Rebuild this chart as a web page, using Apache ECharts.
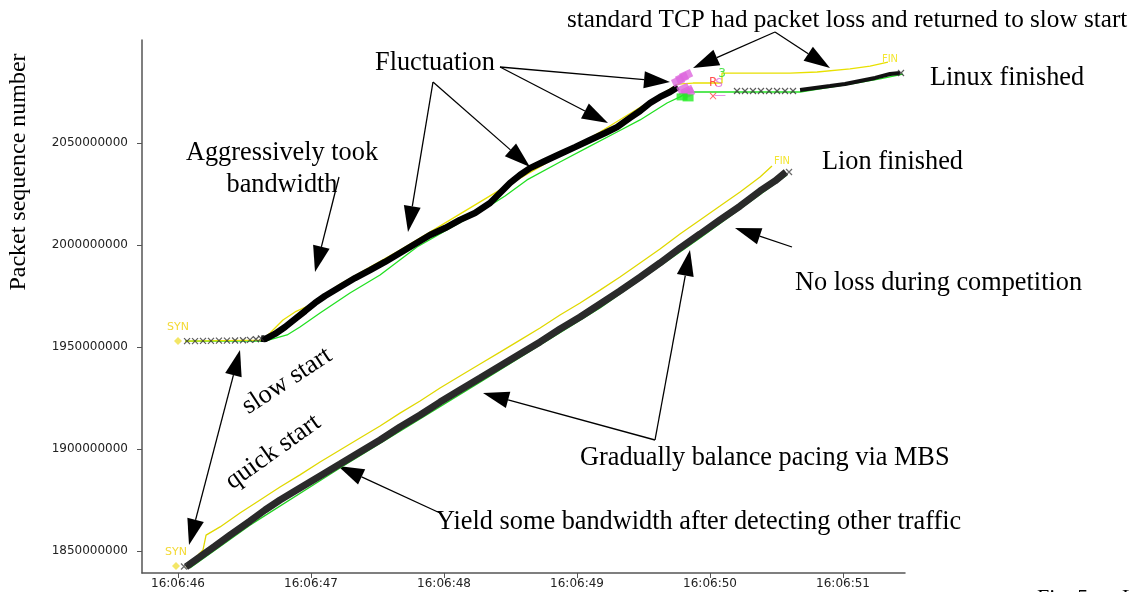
<!DOCTYPE html>
<html><head><meta charset="utf-8">
<script src="https://cdn.jsdelivr.net/npm/echarts@6/dist/echarts.min.js"></script>
<style>html,body{margin:0;padding:0;background:#fff}#c{width:1134px;height:592px}</style>
</head><body><div id="c"></div>
<script>
// time = seconds after 16:06:45 ; seq in millions
const xTickValues = [1, 2, 3, 4, 5, 6];
const xTickLabels = ['16:06:46', '16:06:47', '16:06:48', '16:06:49', '16:06:50', '16:06:51'];
const yTickValues = [1850000000, 1900000000, 1950000000, 2000000000, 2050000000];
const yTickLabels = ['1850000000', '1900000000', '1950000000', '2000000000', '2050000000'];

// Linux (standard TCP) flow
const linuxSyn = [[1.0, 1952.9]];
const linuxSlowStart = [[1.068,1952.9],[1.128,1952.9],[1.188,1953.0],[1.248,1953.0],[1.308,1953.1],[1.368,1953.1],[1.429,1953.2],[1.489,1953.3],[1.541,1953.5],[1.586,1953.8],[1.624,1954.2]];
const linuxSent = [[1.624,1954.2],[1.654,1953.9],[1.729,1956.4],[1.805,1959.8],[1.880,1963.7],[1.955,1967.6],[2.030,1971.6],[2.105,1975.0],[2.218,1979.4],[2.331,1983.8],[2.444,1987.7],[2.556,1991.7],[2.669,1996.1],[2.782,2000.5],[2.895,2004.9],[3.008,2008.3],[3.120,2012.3],[3.233,2015.7],[3.346,2020.6],[3.421,2025.5],[3.496,2030.4],[3.571,2034.3],[3.647,2037.7],[3.759,2041.2],[3.872,2044.6],[3.985,2048.0],[4.098,2051.5],[4.211,2054.9],[4.301,2057.8],[4.398,2062.3],[4.474,2065.7],[4.549,2069.6],[4.624,2072.6],[4.699,2075.0],[4.759,2077.5]];
const linuxAck = [[1.053,1952.9],[1.654,1952.9],[1.820,1955.9],[1.917,1959.8],[2.068,1966.7],[2.293,1976.5],[2.519,1985.3],[2.797,1999.0],[3.045,2008.3],[3.293,2017.2],[3.459,2024.0],[3.624,2031.9],[3.872,2040.7],[4.098,2048.5],[4.301,2055.4],[4.474,2061.3],[4.677,2069.6],[4.774,2072.6],[4.835,2075.0],[5.677,2075.0],[5.827,2076.5],[6.053,2078.9],[6.278,2081.4],[6.451,2083.8]];
const linuxWin = [[1.053,1952.9],[1.632,1953.4],[1.692,1956.9],[1.789,1963.2],[1.880,1967.2],[1.992,1970.6],[2.218,1980.9],[2.669,1997.5],[3.421,2027.0],[4.173,2055.4],[4.759,2078.9],[4.872,2079.4],[5.090,2079.4],[5.090,2084.3],[5.376,2084.3],[5.602,2084.3],[5.805,2084.8],[6.053,2086.3],[6.203,2087.7],[6.338,2089.7]];
const linuxResumeMarks = [[5.203,2075.5],[5.263,2075.5],[5.323,2075.5],[5.383,2075.5],[5.444,2075.5],[5.504,2075.5],[5.564,2075.5],[5.624,2075.5],[6.436,2084.3]];
const linuxResume = [[5.677,2076.0],[5.789,2077.0],[5.902,2077.9],[6.015,2078.9],[6.128,2080.4],[6.241,2081.9],[6.353,2083.8],[6.429,2084.3]];
const linuxRetrans = [[4.760,2080.4],[4.790,2081.9],[4.820,2083.3],[4.800,2076.5],[4.830,2075.5],[4.835,2074.5]];
const linuxSack = [[4.790,2072.6],[4.835,2072.1]];
const linuxFin = [[6.353,2091.2]];
const traceMarks = [['R',5.023,2079.4,'#ff2222'],['S',5.068,2078.9,'#dd66dd'],['3',5.090,2083.8,'#22dd22'],['×',5.023,2072.6,'#ff4444'],['—',5.075,2073.3,'#dd66dd']];

// Lion flow
const lionSyn = [[0.985, 1842.6]];
const lionSent = [[1.060,1842.2],[1.165,1847.1],[1.278,1852.4],[1.391,1857.8],[1.541,1864.7],[1.654,1870.1],[1.767,1875.0],[1.917,1880.9],[2.068,1886.8],[2.218,1892.6],[2.368,1898.5],[2.519,1904.4],[2.669,1910.8],[2.820,1916.7],[2.970,1923.0],[3.120,1928.9],[3.271,1934.8],[3.421,1940.7],[3.571,1946.6],[3.722,1952.5],[3.872,1958.8],[4.023,1964.7],[4.173,1971.1],[4.323,1977.5],[4.474,1984.3],[4.624,1991.2],[4.774,1998.5],[4.925,2005.4],[5.075,2012.3],[5.226,2019.1],[5.376,2026.5],[5.489,2031.4],[5.571,2035.8]];
const lionAck = [[1.090,1841.7],[1.541,1862.7],[2.218,1890.7],[3.271,1932.8],[4.173,1969.1],[4.925,2003.4],[5.579,2034.3]];
const lionWin = [[1.060,1842.2],[1.188,1850.5],[1.211,1857.8],[1.316,1861.8],[1.466,1868.6],[1.617,1875.0],[1.767,1881.4],[1.917,1887.3],[2.068,1893.6],[2.218,1899.5],[2.368,1905.4],[2.519,1911.3],[2.669,1917.6],[2.820,1923.5],[2.970,1929.9],[3.120,1935.8],[3.271,1941.7],[3.421,1947.5],[3.571,1953.4],[3.722,1959.3],[3.872,1965.7],[4.023,1971.6],[4.173,1977.9],[4.323,1984.3],[4.474,1991.2],[4.624,1998.0],[4.774,2005.4],[4.925,2012.3],[5.075,2019.1],[5.226,2026.0],[5.376,2033.3],[5.466,2038.7]];
const lionEndMarks = [[5.594,2035.8],[1.045,1842.4]];
const lionFin = [[5.541,2041.2]];

const M = 1e6;
const toRaw = arr => arr.map(p => [p[0], p[1] * M]);
const X_PATH = 'path://M0 0L10 10M10 0L0 10';
const serif = '"Liberation Serif", "Times New Roman", serif';
const annFont = '26.3px ' + serif;

function arrow(x1, y1, x2, y2, both) {
  const hl = 26, hw = 17;
  const dx = x2 - x1, dy = y2 - y1, L = Math.hypot(dx, dy);
  const ux = dx / L, uy = dy / L, nx = -uy, ny = ux;
  const els = [];
  const head = (tx, ty, sx, sy) => {
    const bx = tx - sx * hl, by = ty - sy * hl;
    els.push({type: 'polygon', shape: {points: [[tx, ty], [bx + nx * hw / 2, by + ny * hw / 2], [bx - nx * hw / 2, by - ny * hw / 2]]}, style: {fill: '#000'}});
  };
  const sx0 = both ? x1 + ux * hl : x1, sy0 = both ? y1 + uy * hl : y1;
  els.push({type: 'line', shape: {x1: sx0, y1: sy0, x2: x2 - ux * hl, y2: y2 - uy * hl}, style: {stroke: '#000', lineWidth: 1.3}});
  head(x2, y2, ux, uy);
  if (both) head(x1, y1, -ux, -uy);
  return els;
}
function txt(s, x, y, opt) {
  opt = opt || {};
  return {type: 'text', x: x, y: y, rotation: opt.rot || 0,
    style: {text: s, x: 0, y: 0, font: opt.font || annFont, fill: '#000',
      align: opt.align || 'left', textAlign: opt.align || 'left', verticalAlign: 'middle', textVerticalAlign: 'middle'}};
}

const arrows = [
  [775, 32, 693, 68], [775, 32, 830, 68],
  [433, 82, 408, 232], [433, 82, 530, 167],
  [500, 67, 608, 123], [500, 67, 670, 82],
  [339, 177, 315, 272],
  [240, 350, 189, 545, true],
  [792, 247, 735, 228],
  [655, 440, 483, 393], [655, 440, 690, 250],
  [440, 513, 338, 466]
];
let graphics = [];
arrows.forEach(a => { graphics = graphics.concat(arrow(a[0], a[1], a[2], a[3], a[4])); });
graphics.push(
  txt('standard TCP had packet loss and returned to slow start', 567, 20, {font: '25.2px ' + serif}),
  txt('Fluctuation', 375, 63),
  txt('Linux finished', 930, 78),
  txt('Aggressively took', 282, 153, {align: 'center'}),
  txt('bandwidth', 282, 185, {align: 'center'}),
  txt('Lion finished', 822, 162),
  txt('No loss during competition', 795, 283),
  txt('slow start', 287, 381, {align: 'center', rot: 0.58}),
  txt('quick start', 273, 452, {align: 'center', rot: 0.62}),
  txt('Gradually balance pacing via MBS', 580, 458),
  txt('Yield some bandwidth after detecting other traffic', 436, 522),
  txt('Packet sequence number', 19, 172, {align: 'center', rot: Math.PI / 2, font: '24px ' + serif}),
  txt('Fig. 5 .  : L', 1037, 598, {font: '22px ' + serif})
);

const xMarkStyle = c => ({color: 'transparent', borderColor: c, borderWidth: 1.2});

const chart = echarts.init(document.getElementById('c'), null, {renderer: 'canvas'});
chart.setOption({
  animation: false,
  backgroundColor: '#fff',
  grid: {left: 142, right: 229, top: 40, bottom: 19, containLabel: false},
  xAxis: {
    type: 'value', min: 0.7293, max: 6.466,
    axisLine: {lineStyle: {color: '#555', width: 1.5}},
    axisTick: {customValues: xTickValues, length: 5, lineStyle: {color: '#555'}},
    axisLabel: {customValues: xTickValues, margin: 5, color: '#222', fontSize: 12, fontFamily: 'DejaVu Sans',
      formatter: v => xTickLabels[xTickValues.indexOf(Math.round(v))] || ''},
    splitLine: {show: false}
  },
  yAxis: {
    type: 'value', min: 1839220000, max: 2100490000,
    axisLine: {show: true, lineStyle: {color: '#555', width: 1.5}},
    axisTick: {show: true, customValues: yTickValues, length: 5, lineStyle: {color: '#555'}},
    axisLabel: {customValues: yTickValues, margin: 14, color: '#222', fontSize: 12, fontFamily: 'DejaVu Sans',
      formatter: v => yTickLabels[yTickValues.indexOf(Math.round(v))] || ''},
    splitLine: {show: false}
  },
  series: [
    {name: 'linuxAck', type: 'line', data: toRaw(linuxAck), symbol: 'none', lineStyle: {color: '#22e022', width: 1.3}, z: 2},
    {name: 'linuxWin', type: 'line', data: toRaw(linuxWin), symbol: 'none', lineStyle: {color: '#e8e000', width: 1.3}, z: 2},
    {name: 'linuxSent', type: 'line', data: toRaw(linuxSent), symbol: 'none', lineStyle: {color: '#000', width: 6.5}, z: 3},
    {name: 'linuxResume', type: 'line', data: toRaw(linuxResume), symbol: 'none', lineStyle: {color: '#111', width: 4}, z: 3},
    {name: 'linuxSlowStart', type: 'scatter', data: toRaw(linuxSlowStart), symbol: X_PATH, symbolSize: 6, itemStyle: xMarkStyle('#333'), z: 4},
    {name: 'linuxResumeMarks', type: 'scatter', data: toRaw(linuxResumeMarks), symbol: X_PATH, symbolSize: 6, itemStyle: xMarkStyle('#333'), z: 4},
    {name: 'linuxRetrans', type: 'scatter', data: toRaw(linuxRetrans), symbol: 'rect', symbolSize: [12, 8], symbolRotate: 25, itemStyle: {color: '#dd66dd'}, z: 5},
    {name: 'linuxSack', type: 'scatter', data: toRaw(linuxSack), symbol: 'rect', symbolSize: [11, 7], itemStyle: {color: '#22ee22'}, z: 5},
    {name: 'traceMarks', type: 'scatter', symbolSize: 0, z: 6,
      data: traceMarks.map(m => ({value: [m[1], m[2] * M], label: {show: true, formatter: m[0], color: m[3], fontSize: 12, fontFamily: 'DejaVu Sans'}}))},
    {name: 'lionAck', type: 'line', data: toRaw(lionAck), symbol: 'none', lineStyle: {color: '#22d022', width: 1.3}, z: 2},
    {name: 'lionWin', type: 'line', data: toRaw(lionWin), symbol: 'none', lineStyle: {color: '#e0d800', width: 1.3}, z: 2},
    {name: 'lionSent', type: 'line', data: toRaw(lionSent), symbol: 'none', lineStyle: {color: '#2a2a2a', width: 7}, z: 3},
    {name: 'lionEndMarks', type: 'scatter', data: toRaw(lionEndMarks), symbol: X_PATH, symbolSize: 6, itemStyle: xMarkStyle('#444'), z: 4},
    {name: 'syn', type: 'scatter', data: toRaw(linuxSyn).concat(toRaw(lionSyn)), symbol: 'diamond', symbolSize: 8, itemStyle: {color: '#f0e040'}, z: 5,
      label: {show: true, position: 'top', distance: 4, formatter: 'SYN', color: '#f0d000', fontSize: 11, fontFamily: 'DejaVu Sans'}},
    {name: 'fin', type: 'scatter', data: toRaw(linuxFin).concat(toRaw(lionFin)), symbolSize: 0, z: 5,
      label: {show: true, position: 'inside', formatter: 'FIN', color: '#f0e000', fontSize: 10, fontFamily: 'DejaVu Sans'}}
  ],
  graphic: graphics
});
</script></body></html>
